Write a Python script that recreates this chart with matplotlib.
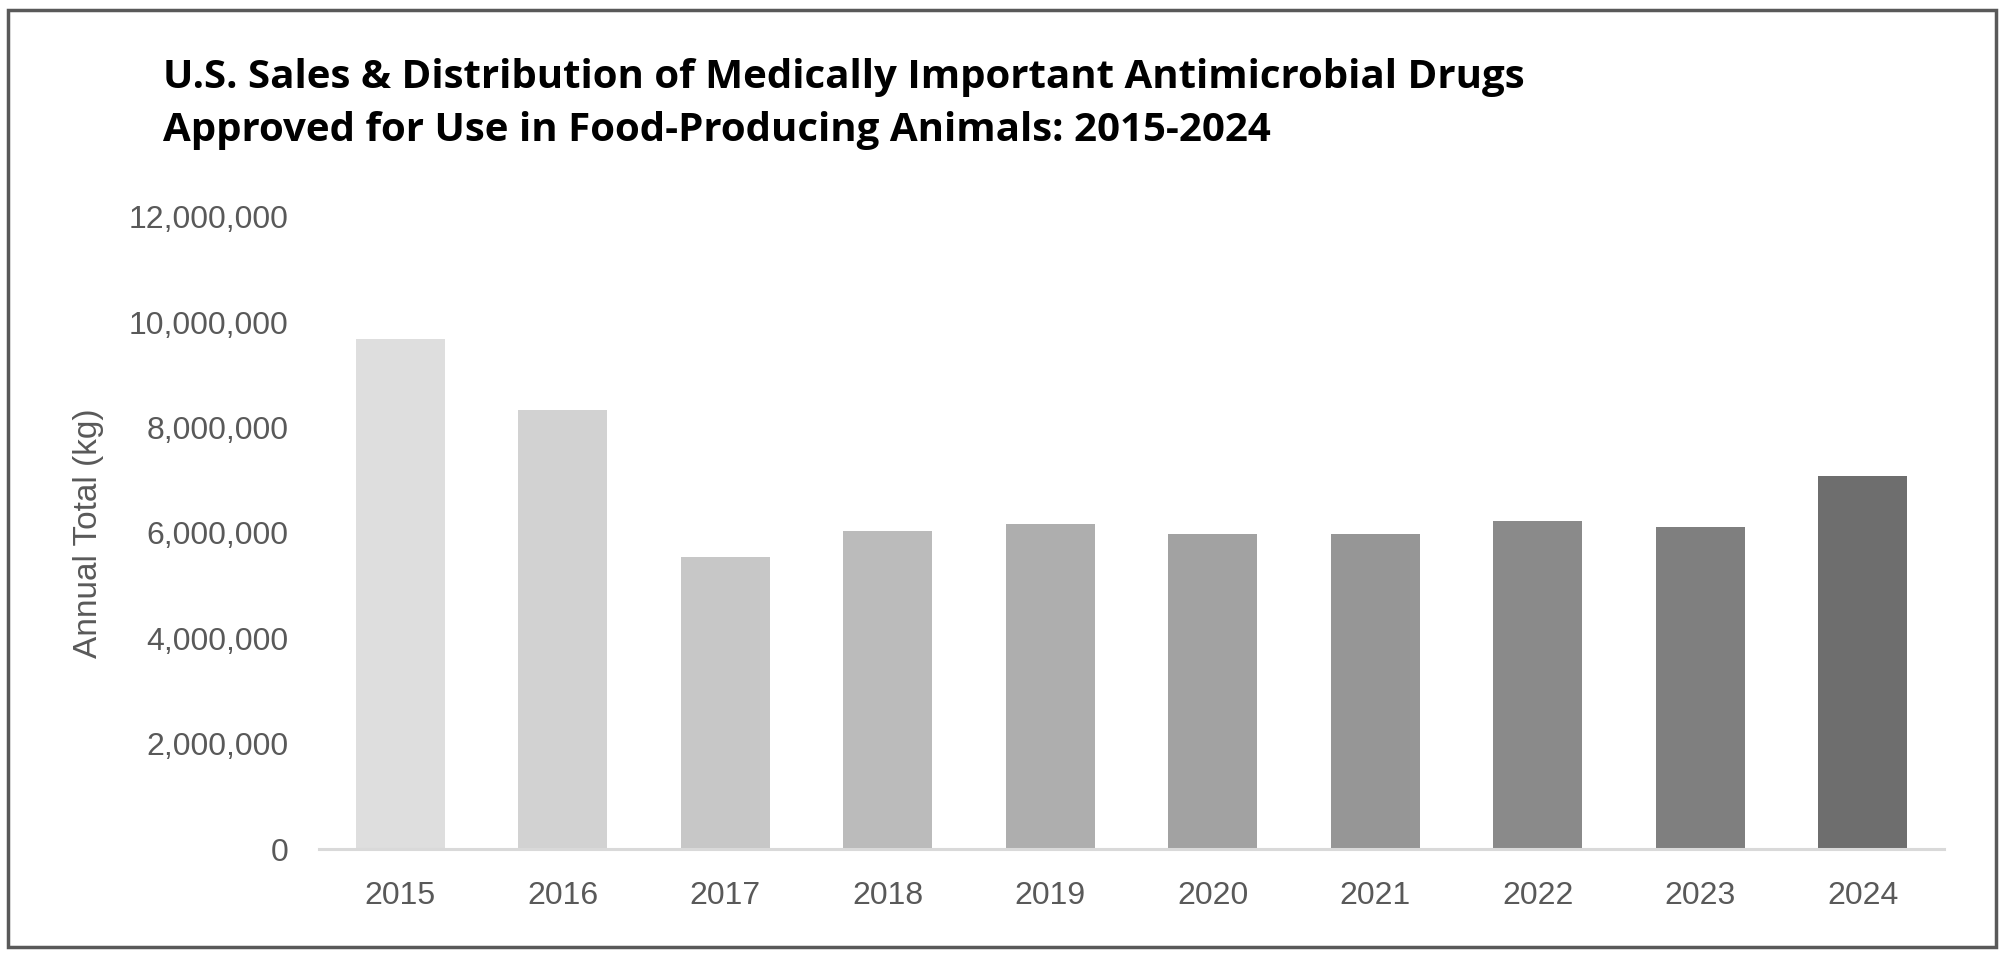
import numpy as np
import matplotlib.pyplot as plt
from matplotlib.patches import Rectangle
from matplotlib.ticker import FuncFormatter

years = ["2015", "2016", "2017", "2018", "2019", "2020", "2021", "2022", "2023", "2024"]
totals_kg = [9680000, 8330000, 5550000, 6030000, 6170000, 5990000, 5990000, 6220000, 6110000, 7090000]
bar_colors = ["#dedede", "#d2d2d2", "#c7c7c7", "#bbbbbb", "#aeaeae",
              "#a2a2a2", "#969696", "#8a8a8a", "#7f7f7f", "#6e6e6e"]

sans = ["Liberation Sans", "DejaVu Sans"]
plt.rcParams['font.family'] = sans

fig = plt.figure(figsize=(20, 9.6), dpi=100)
ax = fig.add_axes([0.1595, 0.1156, 0.8125, 0.6584])

x = np.arange(len(years))
ax.bar(x, totals_kg, width=0.55, color=bar_colors, zorder=2)

ax.set_xlim(-0.5, len(years) - 0.5)
ax.set_ylim(0, 12000000)
ax.set_yticks(np.arange(0, 12000001, 2000000))
ax.yaxis.set_major_formatter(FuncFormatter(lambda v, p: f"{int(v):,}"))
ax.set_xticks(x)
ax.set_xticklabels(years)

for s in ["top", "right", "left"]:
    ax.spines[s].set_visible(False)
ax.spines["bottom"].set_color("#d9d9d9")
ax.spines["bottom"].set_linewidth(2.2)
ax.tick_params(length=0, colors="#595959", labelsize=23)
ax.tick_params(axis="y", pad=22)
ax.tick_params(axis="x", pad=23)

ax.set_ylabel("Annual Total (kg)", fontsize=24, color="#595959", labelpad=18)

fig.text(0.0815, 0.94,
         "U.S. Sales & Distribution of Medically Important Antimicrobial Drugs\n"
         "Approved for Use in Food-Producing Animals: 2015-2024",
         fontsize=29, fontweight="bold", color="black", va="top", ha="left",
         linespacing=1.47, family=["Open Sans", "DejaVu Sans"])

# outer frame
fig.patches.append(Rectangle((0.004, 0.014), 0.994, 0.976, transform=fig.transFigure,
                             fill=False, edgecolor="#595959", linewidth=2.5))

fig.savefig("out.png", dpi=100, facecolor="white")
